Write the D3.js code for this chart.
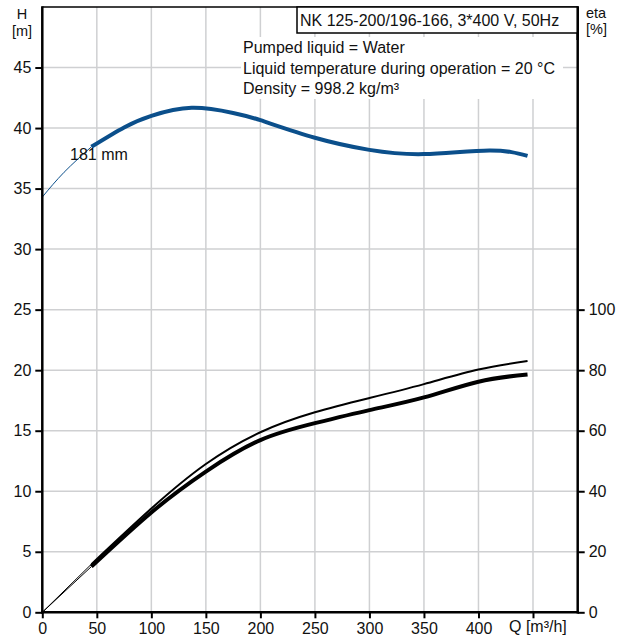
<!DOCTYPE html>
<html>
<head>
<meta charset="utf-8">
<script src="https://cdn.jsdelivr.net/npm/d3@7/dist/d3.min.js"></script>
<style>
  html, body { margin: 0; padding: 0; background: #fff; }
  svg { display: block; font-family: "Liberation Sans", Arial, sans-serif; }
</style>
</head>
<body>
<svg id="chart" width="622" height="639"></svg>
<script>
// ---- Data ----
const titleText = "NK 125-200/196-166, 3*400 V, 50Hz";
const legendLines = ["Pumped liquid = Water", "Liquid temperature during operation = 20 °C", "Density = 998.2 kg/m³"];
const curveLabel = "181 mm";

const qTicks = [0, 50, 100, 150, 200, 250, 300, 350, 400, 450];
const qTickLabels = ["0", "50", "100", "150", "200", "250", "300", "350", "400", ""];
const hTicks = [0, 5, 10, 15, 20, 25, 30, 35, 40, 45];
const etaTicks = [0, 20, 40, 60, 80, 100];

const qStart = 45; // start of operating range (thick part)

// Head curve H [m]
const qH = [0, 20, 45, 75, 100, 137, 175, 200, 250, 300, 350, 410, 445];
const hVals = [34.3, 36.35, 38.45, 40.05, 41.0, 41.67, 41.25, 40.65, 39.2, 38.2, 37.85, 38.15, 37.7];

// Efficiency curves eta [%]
const qEta = [0, 45, 100, 150, 200, 250, 300, 350, 400, 445];
const etaUpper = [0, 15.9, 34.3, 49.0, 59.5, 66.1, 70.8, 75.4, 80.2, 83.0];
const etaLower = [0, 15.1, 33.0, 46.5, 56.9, 62.5, 66.8, 71.0, 76.2, 78.6];

// ---- Layout ----
const svg = d3.select("#chart");
const L = 42.3, R = 577.7, T = 7, B = 612.3;
const x = d3.scaleLinear().domain([0, 491]).range([L, R]);
const yH = d3.scaleLinear().domain([0, 50]).range([B, T]);
const yE = d3.scaleLinear().domain([0, 200]).range([B, T]);
const gridColor = "#cfd0d2";
const fs = 16;
const fsTitle = 14.5;

// grid
const grid = svg.append("g");
grid.selectAll("line.v").data(qTicks.slice(1)).enter().append("line")
  .attr("x1", d => x(d)).attr("x2", d => x(d)).attr("y1", T).attr("y2", B)
  .attr("stroke", gridColor).attr("stroke-width", 1.5);
grid.selectAll("line.h").data(hTicks.slice(1)).enter().append("line")
  .attr("x1", L).attr("x2", R).attr("y1", d => yH(d)).attr("y2", d => yH(d))
  .attr("stroke", gridColor).attr("stroke-width", 1.5);

// legend background + text
svg.append("rect").attr("x", 241).attr("y", 37).attr("width", 322).attr("height", 62).attr("fill", "#fff");
svg.append("g").selectAll("text").data(legendLines).enter().append("text")
  .attr("x", 243).attr("y", (d, i) => 53 + i * 20.5)
  .attr("font-size", fs).attr("fill", "#111").text(d => d);

// curves
const lineH = d3.line().x(d => x(d[0])).y(d => yH(d[1])).curve(d3.curveNatural);
const lineE = d3.line().x(d => x(d[0])).y(d => yE(d[1])).curve(d3.curveNatural);
const hPts = qH.map((q, i) => [q, hVals[i]]);
const upPts = qEta.map((q, i) => [q, etaUpper[i]]);
const loPts = qEta.map((q, i) => [q, etaLower[i]]);
const thin = p => p.filter(d => d[0] <= qStart);
const thick = p => p.filter(d => d[0] >= qStart);

const blue = "#0b4f8b";
svg.append("path").attr("d", lineH(thin(hPts))).attr("fill", "none").attr("stroke", blue).attr("stroke-width", 1);
svg.append("path").attr("d", lineH(thick(hPts))).attr("fill", "none").attr("stroke", blue).attr("stroke-width", 4);

svg.append("path").attr("d", lineE(thin(upPts))).attr("fill", "none").attr("stroke", "#000").attr("stroke-width", 1);
svg.append("path").attr("d", lineE(thick(upPts))).attr("fill", "none").attr("stroke", "#000").attr("stroke-width", 2);
svg.append("path").attr("d", lineE(thin(loPts))).attr("fill", "none").attr("stroke", "#000").attr("stroke-width", 1);
svg.append("path").attr("d", lineE(thick(loPts))).attr("fill", "none").attr("stroke", "#000").attr("stroke-width", 4);

// curve label
svg.append("text").attr("x", 70).attr("y", 160).attr("font-size", fs).attr("fill", "#111").text(curveLabel);

// axes
const axL = d3.axisLeft(yH).tickValues(hTicks).tickSize(7).tickPadding(4).tickFormat(d3.format("d"));
const axB = d3.axisBottom(x).tickValues(qTicks).tickSize(6).tickPadding(4).tickFormat((d, i) => qTickLabels[i]);
const axR = d3.axisRight(yE).tickValues(etaTicks).tickSize(7).tickPadding(4).tickFormat(d3.format("d"));

function style(g) {
  g.select(".domain").remove();
  g.selectAll(".tick line").attr("stroke", "#000").attr("stroke-width", 2);
  g.selectAll(".tick text").attr("font-size", fs).attr("fill", "#111").attr("font-family", "Liberation Sans, Arial, sans-serif");
}
svg.append("g").attr("transform", `translate(${L},0)`).call(axL).call(style);
svg.append("g").attr("transform", `translate(0,${B})`).call(axB).call(style);
svg.append("g").attr("transform", `translate(${R},0)`).call(axR).call(style);

// frame lines
svg.append("line").attr("x1", L).attr("x2", R).attr("y1", T).attr("y2", T).attr("stroke", "#000").attr("stroke-width", 1.5);
svg.append("line").attr("x1", L).attr("x2", L).attr("y1", T - 0.7).attr("y2", B + 1.2).attr("stroke", "#000").attr("stroke-width", 2.5);
svg.append("line").attr("x1", R).attr("x2", R).attr("y1", T - 0.7).attr("y2", B + 1.2).attr("stroke", "#000").attr("stroke-width", 2.5);
svg.append("line").attr("x1", L - 1).attr("x2", R + 1).attr("y1", B).attr("y2", B).attr("stroke", "#000").attr("stroke-width", 2.5);

// title box
svg.append("rect").attr("x", 297).attr("y", T).attr("width", R - 297).attr("height", 26)
  .attr("fill", "#fff").attr("stroke", "#000").attr("stroke-width", 1.5);
svg.append("line").attr("x1", R).attr("x2", R).attr("y1", T).attr("y2", 40).attr("stroke", "#000").attr("stroke-width", 2.5);
svg.append("text").attr("x", 300).attr("y", 26).attr("font-size", fs).attr("fill", "#111").text(titleText);

// axis titles
svg.append("text").attr("x", 22).attr("y", 19).attr("text-anchor", "middle").attr("font-size", fsTitle).attr("fill", "#111").text("H");
svg.append("text").attr("x", 22).attr("y", 35.5).attr("text-anchor", "middle").attr("font-size", fsTitle).attr("fill", "#111").text("[m]");
svg.append("text").attr("x", 586).attr("y", 17.5).attr("font-size", fsTitle).attr("fill", "#111").text("eta");
svg.append("text").attr("x", 586).attr("y", 34).attr("font-size", fsTitle).attr("fill", "#111").text("[%]");
svg.append("text").attr("x", x(450) - 24).attr("y", 632).attr("font-size", fs).attr("fill", "#111").text("Q [m³/h]");
</script>
</body>
</html>
